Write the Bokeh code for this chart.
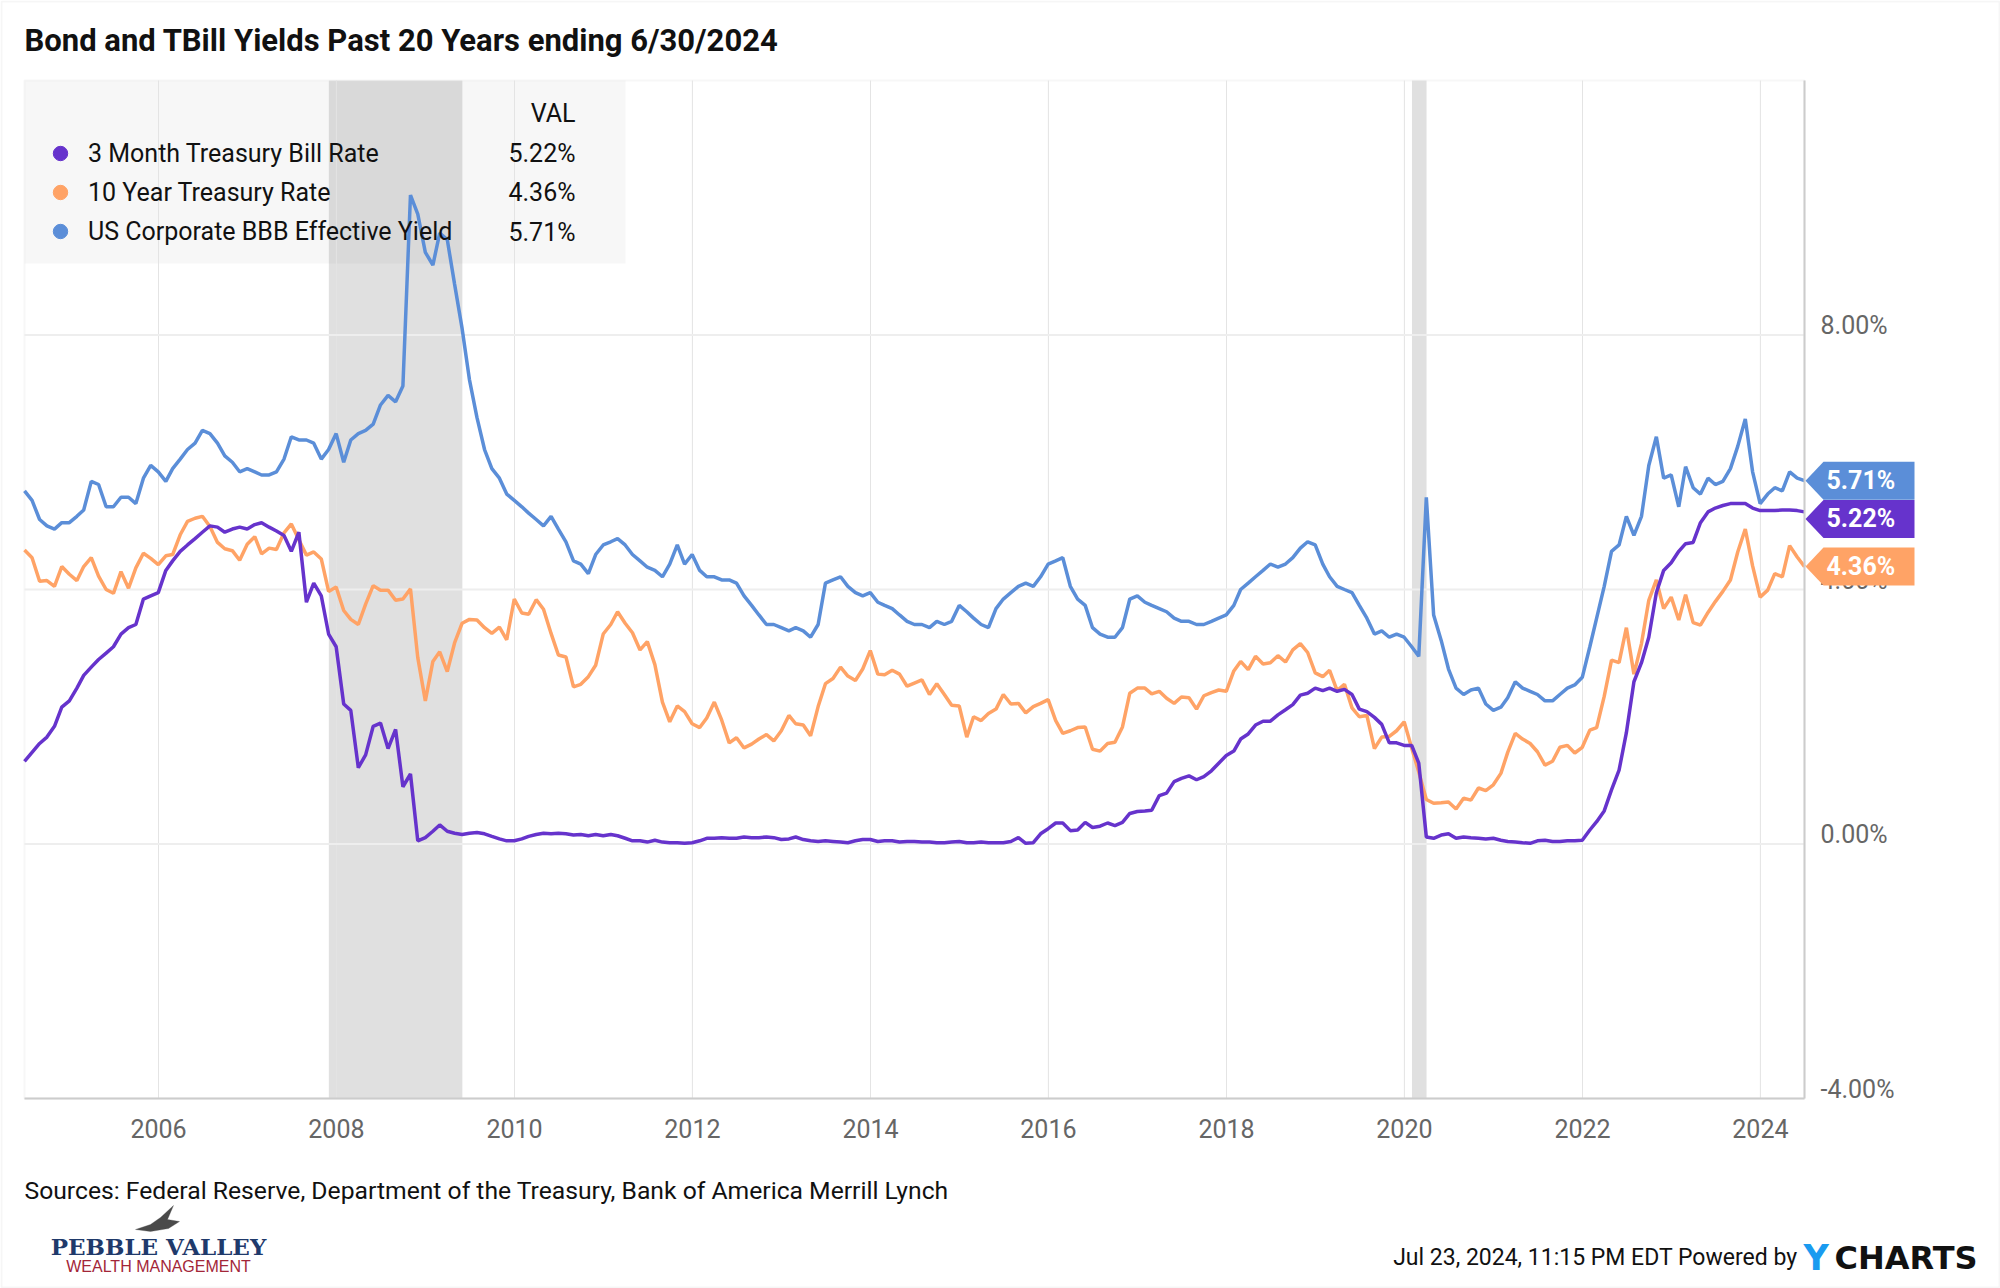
import numpy as np
import pandas as pd
from bokeh.plotting import figure
from bokeh.models import (Range1d, FixedTicker, DatetimeTickFormatter, BoxAnnotation, Label,
                          PolyAnnotation, Legend, LegendItem, ColumnDataSource, CustomJSTickFormatter)
from bokeh.embed import file_html
from bokeh.resources import INLINE

# ---------------- data (month-end readings, Jun 2004 .. Jun 2024) ----------------
tbill_3m = [
    1.30, 1.44, 1.58, 1.68, 1.85, 2.15, 2.25,
    2.45, 2.65, 2.78, 2.90, 3.00, 3.10, 3.30, 3.40, 3.45, 3.85, 3.90, 3.95,
    4.30, 4.45, 4.60, 4.70, 4.80, 4.90, 5.00, 4.98, 4.90, 4.95, 4.98, 4.95,
    5.02, 5.05, 4.98, 4.92, 4.85, 4.60, 4.90, 3.80, 4.10, 3.90, 3.30, 3.10,
    2.20, 2.10, 1.20, 1.40, 1.85, 1.90, 1.50, 1.80, 0.90, 1.10, 0.05, 0.10,
    0.20, 0.30, 0.20, 0.17, 0.15, 0.17, 0.18, 0.16, 0.12, 0.08, 0.05, 0.05,
    0.08, 0.12, 0.15, 0.17, 0.16, 0.17, 0.16, 0.14, 0.15, 0.13, 0.15, 0.13,
    0.15, 0.13, 0.09, 0.05, 0.05, 0.03, 0.06, 0.03, 0.02, 0.02, 0.01, 0.02,
    0.05, 0.09, 0.09, 0.10, 0.09, 0.09, 0.11, 0.10, 0.10, 0.11, 0.10, 0.07,
    0.08, 0.11, 0.07, 0.05, 0.04, 0.05, 0.04, 0.03, 0.02, 0.05, 0.07, 0.07,
    0.04, 0.05, 0.05, 0.03, 0.04, 0.04, 0.03, 0.03, 0.02, 0.02, 0.03, 0.04,
    0.02, 0.02, 0.03, 0.02, 0.02, 0.02, 0.04, 0.10, 0.01, 0.02, 0.16, 0.24,
    0.33, 0.33, 0.21, 0.22, 0.34, 0.26, 0.28, 0.33, 0.29, 0.34, 0.48, 0.51,
    0.52, 0.53, 0.76, 0.80, 0.98, 1.03, 1.07, 1.01, 1.06, 1.15, 1.27, 1.39,
    1.46, 1.65, 1.73, 1.87, 1.93, 1.93, 2.03, 2.11, 2.19, 2.34, 2.37, 2.45,
    2.41, 2.45, 2.40, 2.43, 2.35, 2.12, 2.08, 1.99, 1.88, 1.59, 1.59, 1.55,
    1.55, 1.27, 0.11, 0.09, 0.14, 0.16, 0.09, 0.11, 0.10, 0.09, 0.08, 0.09,
    0.06, 0.04, 0.03, 0.02, 0.01, 0.05, 0.06, 0.04, 0.04, 0.05, 0.05, 0.06,
    0.22, 0.35, 0.52, 0.85, 1.16, 1.75, 2.55, 2.85, 3.25, 3.95, 4.30, 4.42,
    4.60, 4.72, 4.74, 5.05, 5.22, 5.28, 5.32, 5.35, 5.35, 5.35, 5.28, 5.24,
    5.24, 5.24, 5.25, 5.25, 5.24, 5.22,
]
treasury_10y = [
    4.62, 4.50, 4.13, 4.14, 4.05, 4.36, 4.24,
    4.14, 4.36, 4.50, 4.21, 4.00, 3.94, 4.28, 4.02, 4.34, 4.57, 4.49, 4.39,
    4.53, 4.55, 4.86, 5.07, 5.12, 5.15, 4.99, 4.74, 4.64, 4.61, 4.46, 4.71,
    4.83, 4.56, 4.65, 4.63, 4.89, 5.03, 4.78, 4.54, 4.59, 4.48, 3.97, 4.04,
    3.67, 3.53, 3.45, 3.77, 4.06, 3.99, 3.99, 3.83, 3.85, 4.01, 2.93, 2.25,
    2.87, 3.02, 2.71, 3.16, 3.47, 3.53, 3.52, 3.40, 3.31, 3.41, 3.21, 3.85,
    3.63, 3.61, 3.84, 3.69, 3.31, 2.97, 2.94, 2.47, 2.51, 2.63, 2.81, 3.30,
    3.45, 3.65, 3.47, 3.32, 3.05, 3.18, 2.82, 2.23, 1.92, 2.17, 2.08, 1.89,
    1.83, 1.98, 2.23, 1.95, 1.59, 1.67, 1.51, 1.57, 1.65, 1.72, 1.62, 1.78,
    2.02, 1.89, 1.87, 1.70, 2.16, 2.52, 2.60, 2.78, 2.64, 2.57, 2.75, 3.04,
    2.67, 2.66, 2.73, 2.67, 2.48, 2.53, 2.58, 2.35, 2.52, 2.35, 2.18, 2.17,
    1.68, 2.00, 1.94, 2.05, 2.12, 2.35, 2.20, 2.21, 2.06, 2.16, 2.21, 2.27,
    1.94, 1.74, 1.78, 1.83, 1.84, 1.49, 1.46, 1.58, 1.60, 1.84, 2.37, 2.45,
    2.45, 2.36, 2.40, 2.29, 2.21, 2.31, 2.30, 2.12, 2.33, 2.38, 2.42, 2.40,
    2.72, 2.87, 2.74, 2.95, 2.83, 2.85, 2.96, 2.86, 3.05, 3.15, 3.01, 2.69,
    2.63, 2.73, 2.41, 2.51, 2.14, 2.00, 2.02, 1.50, 1.68, 1.69, 1.78, 1.92,
    1.51, 1.13, 0.70, 0.64, 0.65, 0.66, 0.55, 0.72, 0.69, 0.88, 0.84, 0.93,
    1.11, 1.44, 1.74, 1.65, 1.58, 1.45, 1.24, 1.30, 1.52, 1.55, 1.43, 1.52,
    1.79, 1.83, 2.32, 2.89, 2.85, 3.40, 2.67, 3.15, 3.83, 4.15, 3.70, 3.88,
    3.52, 3.92, 3.48, 3.44, 3.64, 3.81, 3.97, 4.15, 4.59, 4.95, 4.37, 3.88,
    3.99, 4.25, 4.20, 4.69, 4.51, 4.36,
]
bbb_yield = [
    5.55, 5.40, 5.10, 5.00, 4.95, 5.05, 5.05,
    5.15, 5.25, 5.70, 5.65, 5.30, 5.30, 5.45, 5.45, 5.35, 5.75, 5.95, 5.85,
    5.70, 5.90, 6.05, 6.20, 6.30, 6.50, 6.45, 6.30, 6.10, 6.00, 5.85, 5.90,
    5.85, 5.80, 5.80, 5.85, 6.05, 6.40, 6.35, 6.35, 6.30, 6.05, 6.20, 6.45,
    6.00, 6.35, 6.45, 6.50, 6.60, 6.90, 7.05, 6.95, 7.20, 10.20, 9.90, 9.30,
    9.10, 9.60, 9.50, 8.80, 8.10, 7.30, 6.70, 6.20, 5.90, 5.75, 5.50, 5.40,
    5.30, 5.20, 5.10, 5.00, 5.15, 4.95, 4.75, 4.45, 4.40, 4.25, 4.55, 4.70,
    4.75, 4.80, 4.70, 4.55, 4.45, 4.35, 4.30, 4.20, 4.40, 4.70, 4.40, 4.55,
    4.30, 4.20, 4.20, 4.15, 4.15, 4.10, 3.90, 3.75, 3.60, 3.45, 3.45, 3.40,
    3.35, 3.40, 3.35, 3.25, 3.45, 4.10, 4.15, 4.20, 4.05, 3.95, 3.90, 3.95,
    3.80, 3.75, 3.70, 3.60, 3.50, 3.45, 3.45, 3.40, 3.50, 3.45, 3.50, 3.75,
    3.65, 3.55, 3.45, 3.40, 3.70, 3.85, 3.95, 4.05, 4.10, 4.05, 4.20, 4.40,
    4.45, 4.50, 4.05, 3.85, 3.75, 3.40, 3.30, 3.25, 3.25, 3.40, 3.85, 3.90,
    3.80, 3.75, 3.70, 3.65, 3.55, 3.50, 3.50, 3.45, 3.45, 3.50, 3.55, 3.60,
    3.75, 4.00, 4.10, 4.20, 4.30, 4.40, 4.35, 4.40, 4.50, 4.65, 4.75, 4.70,
    4.40, 4.20, 4.05, 4.00, 3.95, 3.75, 3.55, 3.30, 3.35, 3.25, 3.30, 3.25,
    3.10, 2.95, 5.45, 3.60, 3.20, 2.75, 2.45, 2.35, 2.42, 2.45, 2.20, 2.10,
    2.15, 2.30, 2.55, 2.45, 2.40, 2.35, 2.25, 2.25, 2.35, 2.45, 2.50, 2.62,
    3.10, 3.55, 4.05, 4.60, 4.70, 5.15, 4.85, 5.15, 5.95, 6.40, 5.75, 5.80,
    5.30, 5.93, 5.60, 5.50, 5.75, 5.65, 5.70, 5.90, 6.25, 6.68, 5.85, 5.35,
    5.50, 5.60, 5.55, 5.85, 5.75, 5.71,
]
series_names = ["3 Month Treasury Bill Rate", "10 Year Treasury Rate", "US Corporate BBB Effective Yield"]
last_values = ["5.22%", "4.36%", "5.71%"]
x_tick_years = list(range(2006, 2025, 2))
y_tick_values = [-4, 0, 4, 8]
recessions = [("2007-12-01", "2009-06-01"), ("2020-02-01", "2020-04-01")]

dates = pd.date_range("2004-06-01", periods=241, freq="MS") + pd.offsets.MonthEnd(0)
assert len(tbill_3m) == len(treasury_10y) == len(bbb_yield) == len(dates)

PURPLE, ORANGE, BLUE = "#6633cc", "#ffa366", "#5b8ed8"
FONT = "Roboto"

# ---------------- geometry (page pixel coords of the plot area) ----------------
W, H = 2000, 1288
FL, FT, FR, FB = 24, 80, 1804, 1098
YMIN, YMAX = -4.0, 12.0
PX_PER_PCT = (FB - FT) / (YMAX - YMIN)


def ms(s):
    return pd.Timestamp(s).timestamp() * 1000.0


T0, T1 = ms(dates[0]), ms(dates[-1])
MS_PER_PX = (T1 - T0) / (FR - FL)
x_range = Range1d(T0 - FL * MS_PER_PX, T1 + (W - FR) * MS_PER_PX)
y_range = Range1d(YMIN - (H - FB) / PX_PER_PCT, YMAX + FT / PX_PER_PCT)


def sx(X):
    return X


def sy(Y):
    return H - Y


p = figure(width=W, height=H, x_axis_type="datetime", y_axis_location="right",
           x_range=x_range, y_range=y_range, output_backend="svg", toolbar_location=None,
           min_border=0, min_border_left=0, min_border_right=0, min_border_top=0, min_border_bottom=0)
p.title.visible = False
p.background_fill_color = "white"
p.border_fill_color = "white"
p.outline_line_color = None
p.grid.visible = False

# x axis pinned to the bottom of the plot area
xt = FixedTicker(ticks=[ms(f"{y}-01-01") for y in x_tick_years])
p.xaxis.ticker = xt
p.xaxis.fixed_location = YMIN
p.xaxis.bounds = (T0, T1)
p.xaxis.formatter = DatetimeTickFormatter(years="%Y", months="%Y", days="%Y", hours="%Y")
p.xaxis.major_label_text_font = FONT
p.xaxis.major_label_text_font_size = "25px"
p.xaxis.major_label_text_color = "#666666"
p.xaxis.major_label_standoff = 20
p.xaxis.major_tick_in = 0
p.xaxis.major_tick_out = 0
p.xaxis.minor_tick_in = 0
p.xaxis.minor_tick_out = 0
p.xaxis.axis_line_color = "#cccccc"
p.xaxis.axis_line_width = 2

# y axis pinned to the right of the plot area (line only; labels drawn above grid lines)
yt = FixedTicker(ticks=y_tick_values)
p.yaxis.ticker = yt
p.yaxis.fixed_location = T1
p.yaxis.bounds = (YMIN, YMAX)
p.yaxis.formatter = CustomJSTickFormatter(code="return ''")
p.yaxis.major_tick_in = 0
p.yaxis.major_tick_out = 0
p.yaxis.minor_tick_in = 0
p.yaxis.minor_tick_out = 0
p.yaxis.axis_line_color = "#cccccc"
p.yaxis.axis_line_width = 2

# legend background box
p.add_layout(BoxAnnotation(left=sx(24), right=sx(625), top=sy(80), bottom=sy(263),
                           left_units="screen", right_units="screen", top_units="screen", bottom_units="screen",
                           fill_color="#f7f7f7", fill_alpha=1, line_color=None, level="underlay"))
# recession shading
for a, b in recessions:
    p.add_layout(BoxAnnotation(left=ms(a), right=ms(b), bottom=YMIN, top=YMAX,
                               fill_color="#000000", fill_alpha=0.12, line_color=None, level="underlay"))

# plot-area grid lines (drawn over the shading, under the series)
gx = [ms(f"{y}-01-01") for y in x_tick_years]
p.segment(x0=gx, y0=[YMIN] * len(gx), x1=gx, y1=[YMAX] * len(gx),
          line_color="#e4e4e4", line_width=1)
gy = [v for v in y_tick_values if v > YMIN]
p.segment(x0=[T0] * len(gy), y0=gy, x1=[T1] * len(gy), y1=gy,
          line_color="#eeeeee", line_width=2)
# plot-area outline (top / left lighter)
p.add_layout(BoxAnnotation(left=T0, right=T1, bottom=YMIN, top=YMAX, fill_alpha=0,
                           line_color="#e6e6e6", line_width=2, level="underlay"))

src = ColumnDataSource(dict(date=dates, tbill=tbill_3m, t10=treasury_10y, bbb=bbb_yield))
p.line("date", "bbb", source=src, color=BLUE, line_width=3.5)
p.line("date", "t10", source=src, color=ORANGE, line_width=3.5)
p.line("date", "tbill", source=src, color=PURPLE, line_width=3.5)

# legend with dots
dots = []
for c in [PURPLE, ORANGE, BLUE]:
    dots.append(p.scatter(x=np.array([np.nan]), y=np.array([np.nan]), marker="circle", size=14,
                          fill_color=c, line_color=c))
legend = Legend(items=[LegendItem(label=n, renderers=[d]) for n, d in zip(series_names, dots)],
                location=(sx(42), sy(249)), orientation="vertical",
                background_fill_alpha=0, border_line_color=None,
                label_text_font=FONT, label_text_font_size="25px", label_text_color="#111111",
                glyph_width=36, glyph_height=36, label_height=36, spacing=3,
                padding=0, margin=0, label_standoff=10)
p.add_layout(legend)

p.add_layout(Label(x=sx(575), y=sy(113), x_units="screen", y_units="screen", text="VAL",
                   text_align="right", text_baseline="middle", text_font=FONT,
                   text_font_size="25px", text_color="#111111"))
for Y, t in zip([153, 192, 232], last_values):
    p.add_layout(Label(x=sx(575), y=sy(Y), x_units="screen", y_units="screen", text=t,
                       text_align="right", text_baseline="middle", text_font=FONT,
                       text_font_size="25px", text_color="#111111"))

# y tick labels (right side, sitting on the grid line)
for v in y_tick_values:
    p.add_layout(Label(x=sx(1820), y=v, x_units="screen", y_units="data", y_offset=-5,
                       text=f"{v:.2f}%", text_align="left", text_baseline="bottom",
                       text_font=FONT, text_font_size="25px", text_color="#666666"))

# end-value tags
tag_specs = [(bbb_yield[-1], BLUE, 0), (tbill_3m[-1], PURPLE, -7), (treasury_10y[-1], ORANGE, 0)]
half = 19 / PX_PER_PCT
for v, c, off in tag_specs:
    vc = v + off / PX_PER_PCT
    p.add_layout(PolyAnnotation(xs=[sx(1805), sx(1823), sx(1914), sx(1914), sx(1823)],
                                ys=[vc, vc + half, vc + half, vc - half, vc - half],
                                xs_units="screen", ys_units="data",
                                fill_color=c, fill_alpha=1, line_color=None))
    p.add_layout(Label(x=sx(1826), y=v, x_units="screen", y_units="data", y_offset=off,
                       text=f"{v:.2f}%", text_align="left", text_baseline="middle",
                       text_font=FONT, text_font_size="25px", text_font_style="bold",
                       text_color="white"))

# title
p.add_layout(Label(x=sx(24), y=sy(40), x_units="screen", y_units="screen",
                   text="Bond and TBill Yields Past 20 Years ending 6/30/2024",
                   text_align="left", text_baseline="middle", text_font=FONT,
                   text_font_size="31px", text_font_style="bold", text_color="#111111"))
# sources
p.add_layout(Label(x=sx(24), y=sy(1190), x_units="screen", y_units="screen",
                   text="Sources: Federal Reserve, Department of the Treasury, Bank of America Merrill Lynch",
                   text_align="left", text_baseline="middle", text_font=FONT,
                   text_font_size="24.7px", text_color="#111111"))
# footer
p.add_layout(Label(x=sx(1797), y=sy(1257), x_units="screen", y_units="screen",
                   text="Jul 23, 2024, 11:15 PM EDT Powered by",
                   text_align="right", text_baseline="middle", text_font=FONT,
                   text_font_size="23px", text_color="#111111"))
p.add_layout(Label(x=sx(1803), y=sy(1257), x_units="screen", y_units="screen", text="Y",
                   text_align="left", text_baseline="middle", text_font="DejaVu Sans",
                   text_font_size="35px", text_font_style="bold", text_color="#1a9bf0"))
p.add_layout(Label(x=sx(1834), y=sy(1257), x_units="screen", y_units="screen", text="CHARTS",
                   text_align="left", text_baseline="middle", text_font="DejaVu Sans",
                   text_font_size="32px", text_font_style="bold", text_color="#111111"))
# Pebble Valley logo
p.add_layout(PolyAnnotation(xs=[sx(135), sx(150), sx(160), sx(173), sx(167), sx(179), sx(168), sx(150)],
                            ys=[sy(1229), sy(1224), sy(1217), sy(1205), sy(1219), sy(1221), sy(1228), sy(1231)],
                            xs_units="screen", ys_units="screen",
                            fill_color="#4a4a4a", fill_alpha=1, line_color="#4a4a4a"))
p.add_layout(Label(x=sx(158), y=sy(1246), x_units="screen", y_units="screen", text="PEBBLE VALLEY",
                   text_align="center", text_baseline="middle", text_font="DejaVu Serif",
                   text_font_size="23px", text_font_style="bold", text_color="#1f3a6b"))
p.add_layout(Label(x=sx(158), y=sy(1266), x_units="screen", y_units="screen", text="WEALTH MANAGEMENT",
                   text_align="center", text_baseline="middle", text_font="Liberation Sans",
                   text_font_size="16px", text_color="#a32638"))
# outer border
p.add_layout(BoxAnnotation(left=1, right=W - 1, bottom=1, top=H - 1,
                           left_units="screen", right_units="screen", top_units="screen", bottom_units="screen",
                           fill_alpha=0, line_color="#e2e2e2", line_width=2))

open("out.html", "w").write(file_html(p, INLINE))
